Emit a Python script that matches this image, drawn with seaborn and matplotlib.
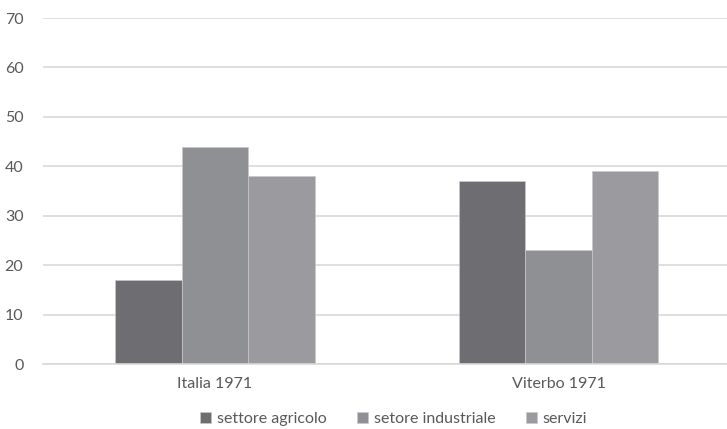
import pandas as pd
import matplotlib.pyplot as plt
import seaborn as sns

# Dati
categorie = ['Italia 1971', 'Viterbo 1971']
settori = ['settore agricolo', 'setore industriale', 'servizi']
agricolo = [17, 37]
industriale = [44, 23]
servizi = [38, 39]

df = pd.DataFrame({
    'categoria': categorie * 3,
    'settore': [settori[0]] * 2 + [settori[1]] * 2 + [settori[2]] * 2,
    'valore': agricolo + industriale + servizi,
})

colori = ['#6e6e72', '#8f9094', '#9b9b9f']

sns.set_style('white')
plt.rcParams['font.family'] = ['Lato', 'DejaVu Sans']

fig = plt.figure(figsize=(7.27, 4.29), dpi=100)
ax = fig.add_axes([0.059, 0.1515, 0.946, 0.8065])

sns.barplot(data=df, x='categoria', y='valore', hue='settore', hue_order=settori,
            palette=colori, width=0.58, gap=0, saturation=1, ax=ax,
            edgecolor='#c8c8cc', linewidth=0.5)

ax.set_ylim(0, 70)
ax.set_yticks(range(0, 71, 10))
ax.set_xlim(-0.5, 1.5)
ax.yaxis.grid(True, color='#d9d9d9', linewidth=1.2)
ax.set_axisbelow(True)
for s in ['top', 'right', 'left']:
    ax.spines[s].set_visible(False)
ax.spines['bottom'].set_color('#d9d9d9')
ax.spines['bottom'].set_linewidth(1.2)
ax.tick_params(axis='both', length=0, labelsize=11.5, labelcolor='#595959')
ax.tick_params(axis='x', pad=9)
ax.tick_params(axis='y', pad=14)
ax.set_xlabel('')
ax.set_ylabel('')

ax.legend(loc='upper center', bbox_to_anchor=(0.51, -0.097), ncol=3, frameon=False,
          fontsize=11.5, handlelength=0.7, handleheight=0.7, handletextpad=0.35,
          columnspacing=1.9, labelcolor='#595959')

plt.savefig('out.png', dpi=100)
